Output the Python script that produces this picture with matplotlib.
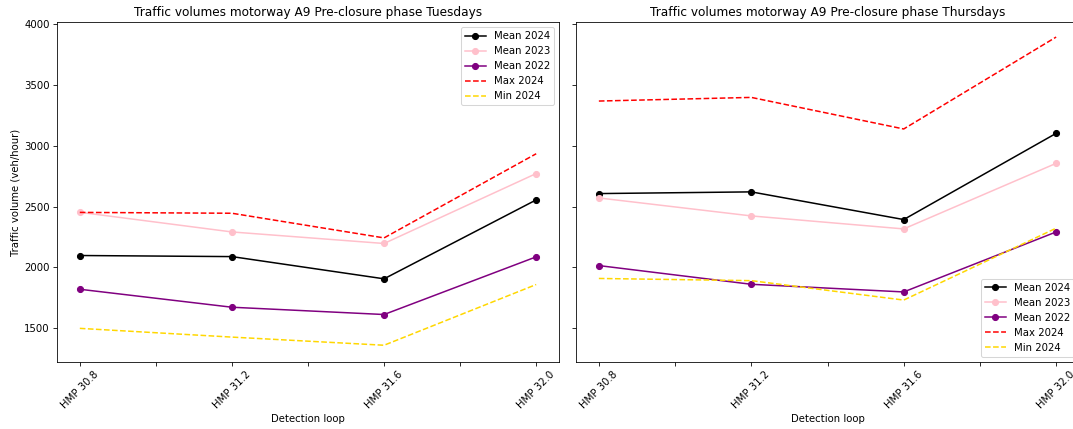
import matplotlib
matplotlib.use("Agg")
import matplotlib.pyplot as plt

positions = [30.8, 31.2, 31.6, 32.0]
tick_positions = [30.8, 31.0, 31.2, 31.4, 31.6, 31.8, 32.0]
tick_labels = ["HMP 30.8", "", "HMP 31.2", "", "HMP 31.6", "", "HMP 32.0"]

tue_mean_2024 = [2097, 2088, 1905, 2555]
tue_mean_2023 = [2453, 2291, 2196, 2772]
tue_mean_2022 = [1819, 1671, 1611, 2086]
tue_max_2024 = [2452, 2445, 2242, 2935]
tue_min_2024 = [1497, 1425, 1358, 1858]

thu_mean_2024 = [2607, 2621, 2393, 3103]
thu_mean_2023 = [2571, 2423, 2316, 2856]
thu_mean_2022 = [2014, 1860, 1797, 2291]
thu_max_2024 = [3369, 3399, 3139, 3896]
thu_min_2024 = [1908, 1890, 1730, 2322]

titles = ["Traffic volumes motorway A9 Pre-closure phase Tuesdays",
          "Traffic volumes motorway A9 Pre-closure phase Thursdays"]

DPI = 73
W, H = 1073, 429
fig = plt.figure(figsize=(W / DPI, H / DPI), dpi=DPI)
ax1 = fig.add_axes([57 / W, (H - 362) / H, 502 / W, 340 / H])
ax2 = fig.add_axes([576 / W, (H - 362) / H, 503 / W, 340 / H], sharey=ax1)

datasets = [
    (tue_mean_2024, tue_mean_2023, tue_mean_2022, tue_max_2024, tue_min_2024),
    (thu_mean_2024, thu_mean_2023, thu_mean_2022, thu_max_2024, thu_min_2024),
]
locs = ["upper right", "lower right"]

for ax, data, title, loc in zip([ax1, ax2], datasets, titles, locs):
    m24, m23, m22, mx, mn = data
    ax.plot(positions, m24, marker="o", color="black", label="Mean 2024")
    ax.plot(positions, m23, marker="o", color="pink", label="Mean 2023")
    ax.plot(positions, m22, marker="o", color="purple", label="Mean 2022")
    ax.plot(positions, mx, linestyle="--", color="red", label="Max 2024")
    ax.plot(positions, mn, linestyle="--", color="gold", label="Min 2024")
    ax.set_title(title)
    ax.set_xlabel("Detection loop")
    ax.set_xticks(tick_positions)
    ax.set_xticklabels(tick_labels, rotation=45)
    ax.legend(loc=loc)

ax1.set_ylabel("Traffic volume (veh/hour)")
ax1.set_ylim(1220, 4020)
ax1.set_yticks([1500, 2000, 2500, 3000, 3500, 4000])
plt.setp(ax2.get_yticklabels(), visible=False)

fig.savefig("out.png", dpi=DPI)
